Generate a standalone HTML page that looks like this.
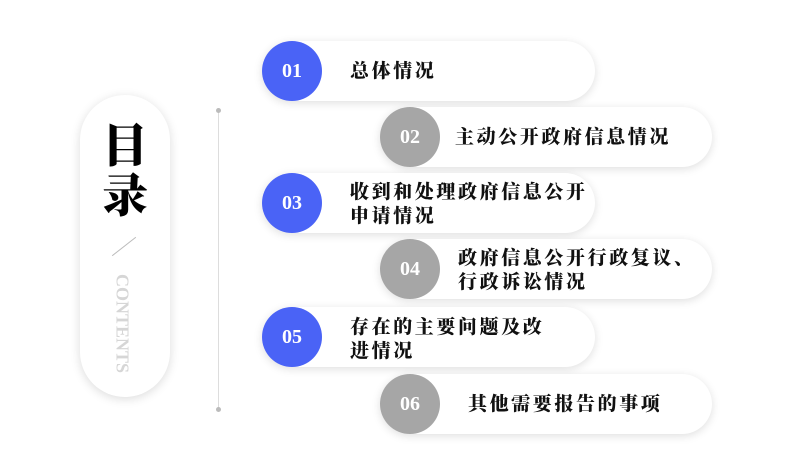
<!DOCTYPE html>
<html><head><meta charset="utf-8"><style>
body{margin:0;width:800px;height:450px;background:#fff;position:relative;overflow:hidden;font-family:"Liberation Serif","Noto Serif CJK SC",serif}
.side{position:absolute;left:80px;top:95px;width:90px;height:302px;border-radius:45px;background:#fff;box-shadow:0 2px 10px rgba(0,0,0,0.14)}
.title{position:absolute;left:102px;top:118px;width:48px;font-size:46px;font-weight:900;line-height:50px;color:#000;font-family:"Noto Serif CJK SC",serif}
.diag{position:absolute;left:109px;top:246px;width:30px;height:1px;background:#bbb;transform:rotate(-38deg)}
.cont{position:absolute;left:62px;top:313px;width:120px;text-align:center;transform:rotate(90deg);font-size:18px;font-weight:bold;color:#d6d6d6}
.vl{position:absolute;left:218px;top:111px;width:1px;height:299px;background:#ddd}
.dot{position:absolute;left:216px;width:5px;height:5px;border-radius:50%;background:#bbb}
.pill{position:absolute;height:60px;border-radius:30px;background:#fff;box-shadow:0 2px 9px rgba(0,0,0,0.13)}
.c{position:absolute;width:60px;height:60px;border-radius:50%;color:#fff;font-size:20px;font-weight:bold;text-align:center;line-height:60px}
.b{background:#4a63f6}.g{background:#a6a6a6}
.t{position:absolute;font-size:19px;font-weight:900;line-height:24px;color:#111;font-family:"Noto Serif CJK SC",serif;letter-spacing:2.6px}
</style></head><body>
<div class="side"></div>
<div class="title">目<br>录</div>
<div class="diag"></div>
<div class="cont">CONTENTS</div>
<div class="vl"></div><div class="dot" style="top:108px"></div><div class="dot" style="top:407px"></div>

<div class="pill" style="left:262px;top:41px;width:333px"></div><div class="c b" style="left:262px;top:41px">01</div>
<div class="t" style="left:350px;top:58px">总体情况</div>

<div class="pill" style="left:380px;top:107px;width:332px"></div><div class="c g" style="left:380px;top:107px">02</div>
<div class="t" style="left:455px;top:124px">主动公开政府信息情况</div>

<div class="pill" style="left:262px;top:173px;width:333px"></div><div class="c b" style="left:262px;top:173px">03</div>
<div class="t" style="left:350px;top:179px">收到和处理政府信息公开<br>申请情况</div>

<div class="pill" style="left:380px;top:239px;width:332px"></div><div class="c g" style="left:380px;top:239px">04</div>
<div class="t" style="left:458px;top:245px">政府信息公开行政复议、<br>行政诉讼情况</div>

<div class="pill" style="left:262px;top:307px;width:333px"></div><div class="c b" style="left:262px;top:307px">05</div>
<div class="t" style="left:350px;top:314px">存在的主要问题及改<br>进情况</div>

<div class="pill" style="left:380px;top:374px;width:332px"></div><div class="c g" style="left:380px;top:374px">06</div>
<div class="t" style="left:468px;top:391px">其他需要报告的事项</div>
</body></html>
